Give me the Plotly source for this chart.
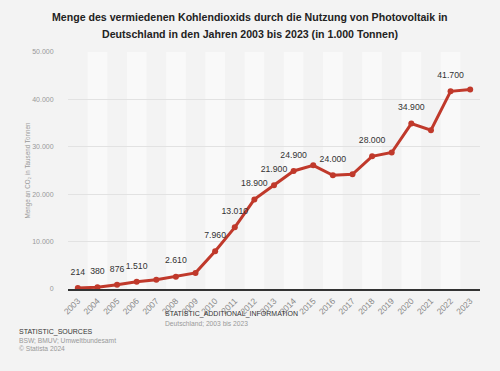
import plotly.graph_objects as go

years = [str(y) for y in range(2003, 2024)]
values = [214, 380, 876, 1510, 1950, 2610, 3400, 7960, 13010, 18900, 21900,
          24900, 26100, 24000, 24200, 28000, 28800, 34900, 33500, 41700, 42100]
labeled = ["2003", "2004", "2005", "2006", "2008", "2010", "2011", "2012", "2013",
           "2014", "2016", "2018", "2020", "2022"]
labels = [f"{v:,}".replace(",", ".") if y in labeled else "" for y, v in zip(years, values)]

title_lines = ["Menge des vermiedenen Kohlendioxids durch die Nutzung von Photovoltaik in",
               "Deutschland in den Jahren 2003 bis 2023 (in 1.000 Tonnen)"]

L, R, T, B, W, H = 68, 20, 52, 82, 500, 371

fig = go.Figure()
fig.add_trace(go.Scatter(
    x=years, y=values, mode="lines+markers",
    line=dict(color="#c0392b", width=3),
    marker=dict(color="#c0392b", size=6),
    hoverinfo="x+y",
))
# data labels (invisible larger marker keeps the labels clear of the line)
fig.add_trace(go.Scatter(
    x=years, y=values, mode="markers+text",
    text=labels, textposition="top center",
    textfont=dict(size=8.7, color="#333333", family="Liberation Sans, Arial"),
    marker=dict(size=16, opacity=0),
    cliponaxis=False, hoverinfo="skip",
))

shapes = []
for i in range(1, len(years), 2):
    shapes.append(dict(type="rect", xref="x", yref="paper", x0=i - 0.5, x1=i + 0.5,
                       y0=0, y1=1, fillcolor="#f9f9f9", line=dict(width=0), layer="below"))


def px_x(px):
    return (px - L) / (W - L - R)


def px_y(py):
    return (H - B - py) / (H - T - B)


ann = []
for txt, y in zip(title_lines, [17, 34]):
    ann.append(dict(text=f"<b>{txt}</b>", x=px_x(250), y=px_y(y), xref="paper", yref="paper",
                    showarrow=False, xanchor="center", yanchor="middle",
                    font=dict(size=10.6, color="#222222")))
foot = [
    ("STATISTIC_ADDITIONAL_INFORMATION", 163, 314, 7, "#333333"),
    ("Deutschland; 2003 bis 2023", 163, 323, 6.7, "#999999"),
    ("STATISTIC_SOURCES", 17, 332, 7, "#333333"),
    ("BSW; BMUV; Umweltbundesamt", 17, 340, 6.7, "#999999"),
    ("© Statista 2024", 17, 348, 6.7, "#999999"),
]
for txt, x, y, s, c in foot:
    ann.append(dict(text=txt, x=px_x(x), y=px_y(y), xref="paper", yref="paper",
                    showarrow=False, xanchor="left", yanchor="middle",
                    font=dict(size=s, color=c)))

fig.update_layout(
    width=W, height=H,
    paper_bgcolor="#f3f3f3", plot_bgcolor="#f3f3f3",
    margin=dict(l=L, r=R, t=T, b=B),
    separators=",.",
    font=dict(family="Liberation Sans, Arial", color="#333333"),
    showlegend=False,
    shapes=shapes,
    xaxis=dict(type="category", range=[-0.5, 20.5], tickangle=-45,
               tickfont=dict(size=8.5, color="#888888"), showgrid=False,
               showline=True, linecolor="#333333", linewidth=1.5,
               ticks="outside", ticklen=2, tickcolor="rgba(0,0,0,0)"),
    yaxis=dict(range=[0, 50000], tickvals=[0, 10000, 20000, 30000, 40000, 50000],
               tickformat=",d", tickfont=dict(size=7, color="#999999"),
               gridcolor="#e2e2e2", gridwidth=1, zeroline=False,
               ticks="outside", ticklen=12, tickcolor="rgba(0,0,0,0)",
               title=dict(text="Menge an CO₂ in Tausend Tonnen",
                          font=dict(size=6.3, color="#999999"), standoff=0)),
    annotations=ann,
)

fig.write_html("out.html", config={"displayModeBar": False},
               post_script="document.body.style.margin='0';document.body.style.background='#f3f3f3';")
